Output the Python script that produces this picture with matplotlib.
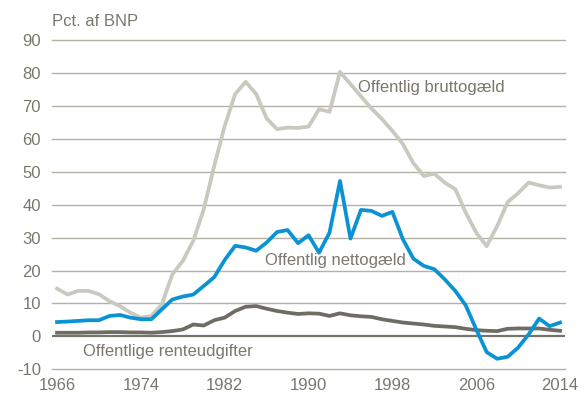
import matplotlib
matplotlib.use("Agg")
import matplotlib.pyplot as plt
from matplotlib import font_manager

years = list(range(1966, 2015))

brutto = [14.5, 12.7, 13.8, 13.8, 12.8, 10.7, 9.2, 7.2, 5.7, 6.2,
          9.7, 18.8, 22.9, 29.0, 38.6, 51.8, 63.9, 73.6, 77.3, 73.6,
          66.2, 62.9, 63.4, 63.3, 63.7, 69.0, 68.2, 80.3, 76.6, 72.9,
          69.2, 66.0, 62.4, 58.4, 52.6, 48.7, 49.4, 46.7, 44.7, 37.6,
          31.5, 27.4, 33.5, 40.8, 43.5, 46.7, 45.9, 45.2, 45.4]

netto = [4.35, 4.5, 4.7, 4.9, 4.9, 6.2, 6.5, 5.7, 5.2, 5.2,
         8.2, 11.2, 12.1, 12.7, 15.3, 18.0, 23.2, 27.5, 27.0, 26.0,
         28.5, 31.7, 32.3, 28.3, 30.7, 25.4, 31.5, 47.2, 29.7, 38.4,
         38.1, 36.6, 37.8, 29.5, 23.6, 21.4, 20.4, 17.3, 13.8, 9.4,
         2.1, -4.8, -6.8, -6.2, -3.4, 0.6, 5.4, 3.1, 4.2]

rente = [1.1, 1.1, 1.1, 1.2, 1.2, 1.3, 1.3, 1.2, 1.2, 1.1,
         1.3, 1.6, 2.1, 3.6, 3.3, 4.9, 5.7, 7.7, 9.0, 9.2,
         8.4, 7.7, 7.2, 6.8, 7.0, 6.9, 6.2, 7.0, 6.4, 6.1,
         5.9, 5.2, 4.7, 4.2, 3.9, 3.6, 3.2, 3.0, 2.8, 2.3,
         1.9, 1.7, 1.6, 2.3, 2.4, 2.4, 2.4, 2.0, 1.7]

xticks = [1966, 1974, 1982, 1990, 1998, 2006, 2014]
yticks = list(range(-10, 100, 10))

names = {f.name for f in font_manager.fontManager.ttflist}
fam = "Liberation Sans Narrow" if "Liberation Sans Narrow" in names else "Liberation Sans"
plt.rcParams['font.family'] = [fam, 'DejaVu Sans']
plt.rcParams['axes.unicode_minus'] = False

txt = "#7a786c"
grid = "#b5b2a4"
fs = 12

fig = plt.figure(figsize=(5.88, 4.01), dpi=100)
ax = fig.add_axes([52/588, (401-369.3)/401, (565-52)/588, (369.3-40)/401])
ax.set_xlim(1965.52, 2014.47)
ax.set_ylim(-10, 90)

for y in yticks:
    if y == 0:
        continue
    ax.axhline(y, color=grid, lw=1.0, zorder=1, clip_on=False)
ax.axhline(0, color="#75736a", lw=1.6, zorder=2)

ax.plot(years, brutto, color="#c9c9bf", lw=2.7, zorder=3, solid_joinstyle='round')
ax.plot(years, rente, color="#6f6d63", lw=2.7, zorder=4, solid_joinstyle='round')
ax.plot(years, netto, color="#0a93d4", lw=2.7, zorder=5, solid_joinstyle='round')

for s in ax.spines.values():
    s.set_visible(False)
ax.set_xticks(xticks)
ax.set_yticks(yticks)
ax.tick_params(length=0, colors=txt, labelsize=fs)
ax.tick_params(axis='y', pad=8)
ax.tick_params(axis='x', pad=6)

fig.text(52/588, 1 - 21.5/401, "Pct. af BNP", color=txt, fontsize=fs, va='center', ha='left')
ax.text(1994.7, 75.7, "Offentlig bruttogæld", color=txt, fontsize=fs, va='center', ha='left')
ax.text(1985.85, 23.0, "Offentlig nettogæld", color=txt, fontsize=fs, va='center', ha='left')
ax.text(1968.5, -4.6, "Offentlige renteudgifter", color=txt, fontsize=fs, va='center', ha='left')

fig.savefig("out.png", dpi=100)
